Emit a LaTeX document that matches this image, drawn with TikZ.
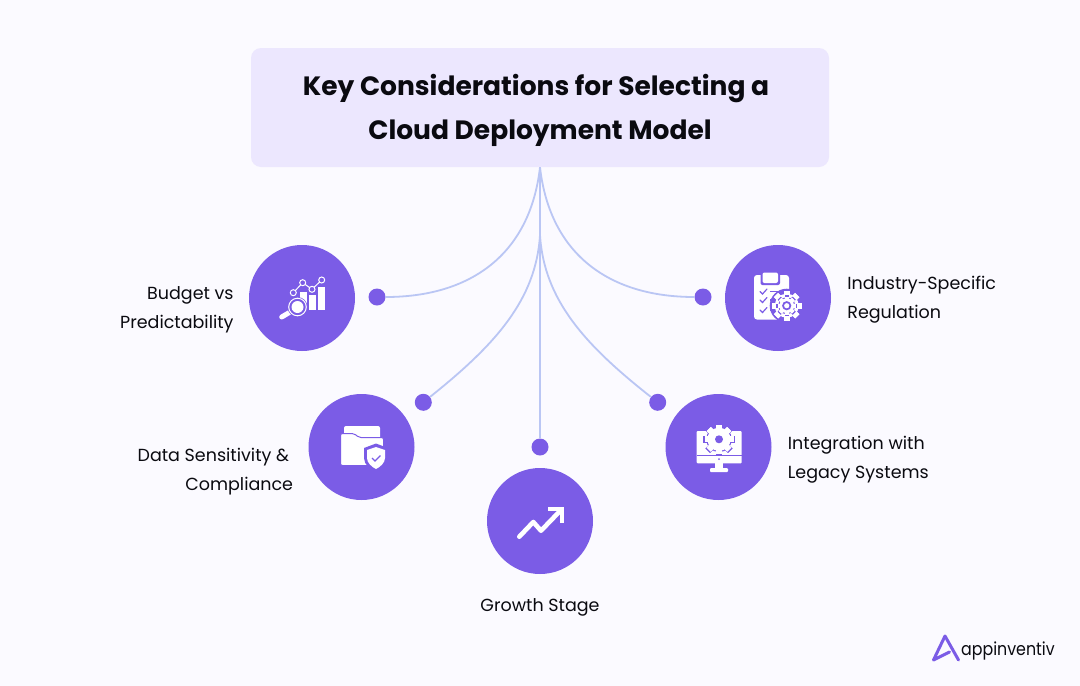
\documentclass[tikz,border=0pt]{standalone}
\usepackage{fontspec}
\setmainfont{Poppins}
\usetikzlibrary{positioning,calc}
\definecolor{Page}{HTML}{FBFAFF}
\definecolor{Box}{HTML}{ECE7FE}
\definecolor{Violet}{HTML}{7B5CE6}
\definecolor{Wire}{HTML}{BAC6F4}
\definecolor{Ink}{HTML}{0A0A10}
\newcommand{\gearicon}[4]{%
\fill[#4] (#1,#2) circle (#3*.8);
\foreach \a in {0,45,...,315}
  \fill[#4,shift={(#1,#2)},rotate=\a] (-#3*.2,-#3) rectangle (#3*.2,#3);
}
\begin{document}
\begin{tikzpicture}
[x=1pt,y=-1pt,
head/.style={fill=Box,rounded corners=10pt,minimum width=578pt,minimum height=119pt,inner sep=0pt},
headtext/.style={align=center,font=\fontsize{26.5}{44}\selectfont\bfseries,text=Ink,inner sep=0pt},
disc/.style={circle,fill=Violet,minimum size=106pt,inner sep=0pt},
dot/.style={circle,fill=Violet,minimum size=17pt,inner sep=0pt},
wire/.style={Wire,line width=1.8pt},
lbl/.style={font=\fontsize{17.5}{29}\selectfont,text=Ink,inner sep=0pt},
glyph/.style={white,line width=1.4pt},
cut/.style={Violet,line width=1.2pt}
]
\useasboundingbox[fill=Page] (0,0) rectangle (1080,686);
%% title
\node[head] (title) at (540,107.5) {};
\node[headtext] (titleText) at (540,110.5) {Key Considerations for Selecting a\hspace*{8pt}\\ Cloud Deployment Model};
%% end dots
\node[dot] (budgetDot) at (377,297) {};
\node[dot] (dataDot) at (423.3,402.3) {};
\node[dot] (growthDot) at (540,447) {};
\node[dot] (legacyDot) at (657.7,402.3) {};
\node[dot] (industryDot) at (703,297) {};
\coordinate (fork) at (540,235);
%% connectors
\draw[wire] (title.south) .. controls (530,255) and (470,297) .. (budgetDot);
\draw[wire] (fork) .. controls (536,300) and (495,345) .. (dataDot);
\draw[wire] (title.south) -- (growthDot);
\draw[wire] (fork) .. controls (544,300) and (585,345) .. (legacyDot);
\draw[wire] (title.south) .. controls (550,255) and (610,297) .. (industryDot);
%% discs
\node[disc] (budget) at (302,298) {};
\node[disc] (data) at (361.5,447) {};
\node[disc] (growth) at (540,521) {};
\node[disc] (legacy) at (718.5,447) {};
\node[disc] (industry) at (778,298) {};
%% labels
\node[lbl,align=right,left=15pt of budget,yshift=-12pt] (budgetText) {Budget vs\\ Predictability};
\node[lbl,align=right,left=15pt of data,yshift=-25pt] (dataText) {Data Sensitivity \&\hspace*{4pt}\\ Compliance};
\node[lbl,below=24pt of growth] (growthText) {Growth Stage};
\node[lbl,align=left,right=16pt of legacy,yshift=-13pt] (legacyText) {Integration with\\ Legacy Systems};
\node[lbl,align=left,right=16pt of industry,yshift=-2pt] (industryText) {Industry-Specific\\ Regulation};
%% budget icon
\fill[white] (300,292) rectangle (307,310);
\fill[white] (308.5,295) rectangle (316,310);
\fill[white] (317.5,287) rectangle (325,310);
\draw[glyph,line width=1pt] (293.3,292.7) -- (302.7,282.7) -- (312,289.3) -- (321.7,280);
\foreach \x/\y in {293.3/292.7,302.7/282.7,312/289.3,321.7/280}
  \draw[white,line width=1pt,fill=Violet] (\x,\y) circle (3pt);
\draw[white,line width=5pt,line cap=round] (281.7,317) -- (291,311.5);
\fill[Violet] (297.5,307) circle (10pt);
\draw[white,line width=1pt] (297.5,307) circle (8.8pt);
\fill[white] (297.5,307) circle (6pt);
%% data icon
\fill[white,rounded corners=2pt] (344,426) rectangle (380,440);
\filldraw[fill=white,draw=Violet,line width=1pt,rounded corners=2pt] (340.5,433.5) -- (354,433.5) -- (359,437.5) -- (383.5,437.5) -- (383.5,465.5) -- (340.5,465.5) -- cycle;
\fill[Violet] (376,443.5) -- (388,448) -- (388,458) .. controls (388,465) and (381,470) .. (376,472)
  .. controls (371,470) and (364,465) .. (364,458) -- (364,448) -- cycle;
\fill[white] (376,447) -- (385,450) -- (385,458) .. controls (385,463) and (380,467) .. (376,469)
  .. controls (372,467) and (367,463) .. (367,458) -- (367,450) -- cycle;
\draw[Violet,line width=1.3pt] (372,458) -- (375,461) -- (380.5,455.5);
%% growth icon
\draw[white,line width=4.6pt,line cap=round,line join=round] (519.3,536.7) -- (533.3,522) -- (541,530.7) -- (560,511);
\draw[white,line width=4.6pt,line join=miter] (548.3,509) -- (562,509) -- (562,523.3);
%% legacy icon
\fill[white,rounded corners=1pt] (696.7,431) rectangle (741.7,463.3);
\fill[Violet] (696.7,454.5) rectangle (741.7,455.5);
\fill[Violet] (719,459) circle (1pt);
\fill[white] (715,463) rectangle (723,468);
\fill[white,rounded corners=1pt] (710,468) rectangle (728,472);
\gearicon{719}{439.3}{16}{Violet}
\gearicon{719}{439.3}{14.5}{white}
\fill[Violet] (719,439.3) circle (4pt);
%% industry icon
\fill[white,rounded corners=3pt] (754,275) rectangle (789,319.5);
\fill[Violet,rounded corners=2pt] (760.5,270.5) rectangle (780,285);
\fill[white,rounded corners=2pt] (762.5,272.5) rectangle (778,283);
\foreach \y in {291.5,300,310}{
  \draw[cut,line cap=round] (760,\y) -- (762.5,\y+2.5) -- (767,\y-2.5);
  \draw[cut] (770,\y) -- (778,\y);
}
\fill[Violet] (786.7,305.7) circle (17pt);
\gearicon{786.7}{305.7}{15}{white}
\gearicon{786.7}{305.7}{10.5}{Violet}
\gearicon{786.7}{305.7}{9.2}{white}
\fill[Violet] (786.7,305.7) circle (4.6pt);
\fill[white] (786.7,305.7) circle (2.6pt);
%% logo
\draw[Violet,line width=3pt,line join=round,line cap=round] (958.5,660) -- (945,636) -- (933.5,660) -- (949.5,652);
\node[anchor=base west,inner sep=0pt,font=\fontsize{18}{24}\selectfont,text=Ink,xscale=.88,transform shape] (logo) at (961,655) {appinventiv};
\end{tikzpicture}
\end{document}
